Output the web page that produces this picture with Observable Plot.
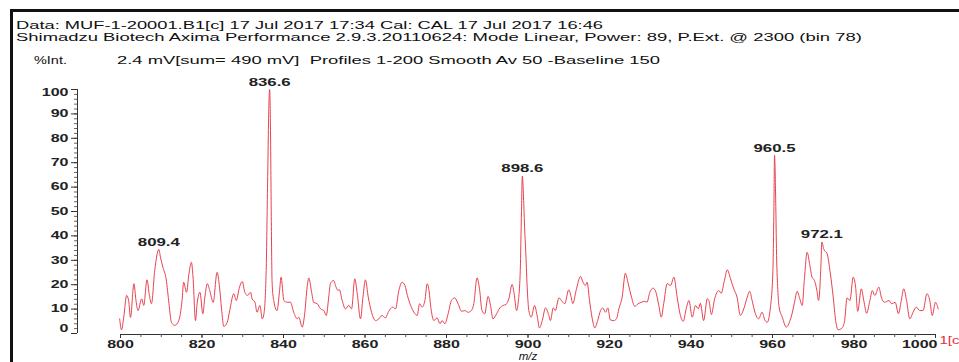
<!DOCTYPE html>
<html><head><meta charset="utf-8">
<script src="https://cdn.jsdelivr.net/npm/d3@7"></script>
<script src="https://cdn.jsdelivr.net/npm/@observablehq/plot@0.6"></script>
<style>
html,body{margin:0;padding:0;background:#fff;}
#wrap{position:relative;width:959px;height:362px;overflow:hidden;font-family:"Liberation Sans",Arial,sans-serif;}
#frame{position:absolute;left:10px;top:9px;width:980px;height:380px;border-top:3px solid #111;border-left:3px solid #111;box-sizing:border-box;}
#header{position:relative;height:70px;}
.hl{position:absolute;display:inline-block;white-space:pre;font-size:10.5px;line-height:10.5px;color:#111;transform-origin:0 50%;}
#chart{position:relative;}
</style></head><body>
<div id="wrap"><div id="frame"></div><div id="header"></div><div id="chart"></div></div>
<script>
// ---- texts ----
const headerTexts = [
  "Data: MUF-1-20001.B1[c] 17 Jul 2017 17:34 Cal: CAL 17 Jul 2017 16:46",
  "Shimadzu Biotech Axima Performance 2.9.3.20110624: Mode Linear, Power: 89, P.Ext. @ 2300 (bin 78)",
  "%Int.",
  "2.4 mV[sum= 490 mV]  Profiles 1-200 Smooth Av 50 -Baseline 150"
];
const xLabel = "m/z";
const cornerTag = "1[c]";
const peakLabels = ["809.4", "836.6", "898.6", "960.5", "972.1"];
const xTicks = [800, 820, 840, 860, 880, 900, 920, 940, 960, 980, 1000];
const xMinor = d3.range(800, 1001, 5);
const yTicks = [0, 10, 20, 30, 40, 50, 60, 70, 80, 90, 100];
const yMinor = d3.range(0, 101, 2);

// ---- spectrum (m/z, %Int.) ----
const mz = [799.8,800.25,800.8,801.5,802.0,802.45,803.3,803.8,804.3,805.2,805.7,806.5,807.1,807.6,808.4,809.4,809.8,810.4,811.2,811.9,812.5,813.3,814.3,815.1,815.5,816.2,816.8,817.4,817.8,818.4,818.8,819.5,820.2,820.7,821.3,821.9,822.75,823.7,824.3,824.8,825.35,826.2,826.8,827.8,828.4,829.2,829.9,830.5,831.2,831.9,832.3,833.0,833.5,834.2,834.8,835.2,835.75,836.1,836.45,836.6,836.8,837.0,837.2,837.6,838.4,839.0,839.4,840.1,840.9,841.7,842.5,843.4,843.75,844.6,845.2,845.8,846.2,846.9,847.4,848.3,849.1,849.9,850.5,851.1,851.5,852.3,852.9,853.4,853.7,854.4,855.2,856.0,856.7,857.5,858.1,858.9,859.5,860.1,860.8,861.6,862.6,863.4,864.2,865.0,865.8,866.8,867.5,868.3,869.1,869.8,870.4,871.2,872.0,872.8,873.4,874.0,874.7,875.25,875.65,876.2,876.9,877.7,878.4,878.9,879.6,880.4,881.2,882.0,882.85,883.7,884.5,885.3,886.1,886.7,887.5,888.15,888.7,889.4,890.2,890.8,891.4,892.3,893.1,893.9,894.6,895.3,896.1,896.6,897.2,897.6,898.1,898.4,898.6,898.9,899.2,899.4,899.8,900.2,900.8,901.6,902.3,902.8,903.5,904.3,905.0,905.5,906.2,906.7,907.6,908.2,909.0,910.0,910.5,911.0,911.8,912.9,913.5,914.1,914.5,915.1,915.7,916.4,917.1,917.8,918.35,919.0,919.6,920.2,921.05,921.7,922.3,923.1,923.9,924.6,925.4,926.2,927.0,927.85,928.65,929.2,929.9,930.7,931.4,932.1,932.7,933.3,934.15,935.0,935.8,936.6,937.3,938.1,938.9,939.5,940.3,941.1,941.8,942.3,943.1,944.0,944.4,945.0,945.8,946.8,947.4,948.2,948.9,949.7,950.5,951.3,952.1,952.95,953.8,954.4,955.0,955.8,956.6,957.45,958.1,958.7,959.5,960.1,960.35,960.5,960.75,961.0,961.3,961.6,962.4,963.4,964.3,964.8,965.4,966.05,966.7,967.3,967.8,968.5,969.1,969.7,970.3,970.9,971.3,971.9,972.1,972.6,973.4,974.2,974.9,975.5,976.1,977.1,977.7,978.3,979.0,979.8,980.4,980.9,981.8,982.4,983.1,983.9,984.5,985.1,986.1,986.7,987.5,988.6,989.25,990.1,990.9,991.6,992.2,992.9,993.7,994.5,995.3,996.1,996.95,997.9,998.6,999.2,1000.0,1000.65];
const intensity = [6.0,1.5,6.7,15.6,13.5,6.6,20.4,13.5,9.4,14.2,11.5,22.0,15.6,12.2,25.8,34.5,31.3,27.2,22.4,12.2,4.6,3.3,5.3,13.5,21.0,16.9,24.5,29.2,23.1,5.3,12.2,16.9,8.1,14.9,20.4,17.6,12.8,25.1,19.0,10.1,2.9,4.6,9.4,16.3,13.5,19.0,21.3,16.9,15.6,16.9,14.2,12.8,8.7,11.5,6.0,8.1,25.8,62,96,100,85,48,21,13.5,9.4,16.9,23.1,13.5,12.8,12.8,8.7,6.0,6.7,2.6,8.1,19.0,22.8,16.9,12.8,12.2,10.1,9.4,7.4,14.9,20.4,21.7,19.0,17.6,18.0,13.5,10.1,11.5,10.1,22.4,16.3,6.0,14.9,22.0,14.9,8.7,5.3,6.0,7.4,6.4,9.0,10.8,10.1,17.6,21.0,19.7,15.6,11.5,8.7,7.4,12.2,10.8,13.5,20.4,18.3,10.1,5.3,6.4,4.0,5.3,4.0,8.1,13.5,14.6,12.2,9.1,9.4,8.7,9.4,12.2,22.8,17.6,9.4,8.1,15.2,11.5,6.0,8.1,10.5,11.5,11.9,14.2,20.1,16.3,9.4,12.8,25.8,50,64.5,56,42,35.4,19.0,9.4,6.7,11.5,6.7,2.3,5.3,10.5,8.1,5.3,10.5,9.4,14.6,13.5,12.2,17.9,15.6,12.2,17.6,23.4,21.0,19.7,21.0,13.5,6.7,2.3,5.3,9.4,10.5,8.7,10.5,5.6,5.3,6.0,10.1,14.9,24.7,20.4,14.9,11.1,12.2,12.8,13.2,12.8,16.9,18.6,16.9,11.5,6.7,12.2,20.4,19.7,23.1,14.9,8.1,5.0,10.8,13.5,6.7,11.5,10.1,12.4,5.3,14.2,13.5,7.8,14.2,17.6,16.5,21.7,26.1,22.4,18.3,14.9,7.4,10.1,14.9,17.3,13.5,8.1,6.0,8.7,5.6,4.6,10.8,25.8,52,73,58,32,18,11,6.7,2.6,5.3,8.1,12.8,17.3,14.2,11.5,21.7,33.3,28.6,23.1,21.7,17.6,13.5,28.6,37.5,34.5,32.7,24.5,14.9,5.3,1.5,2.3,5.3,14.6,13.5,23.1,19.0,9.1,18.3,13.5,8.3,13.5,17.6,15.6,19.0,14.9,12.8,13.5,12.2,12.8,8.1,13.5,18.3,13.5,6.0,8.7,10.8,9.4,9.4,16.3,13.5,7.4,12.8,10.1];

const spectrum = mz.map((m, i) => ({mz: m, int: intensity[i]}));
const peaks = peakLabels.map(l => {
  const m = +l;
  const best = spectrum.filter(d => Math.abs(d.mz - m) < 0.6).reduce((a, b) => (b.int > a.int ? b : a));
  return {mz: m, int: best.int, label: l};
});

// ---- header (HTML, stretched to match the wide instrument font) ----
const headerLayout = [
  {left: 16, right: 603, cy: 25},
  {left: 16, right: 862, cy: 37},
  {left: 34, right: 67, cy: 60},
  {left: 117, right: 660, cy: 60}
];
const header = document.getElementById("header");
headerTexts.forEach((t, i) => {
  const s = document.createElement("span");
  s.className = "hl";
  s.textContent = t;
  header.appendChild(s);
  const L = headerLayout[i];
  const w = s.offsetWidth;
  s.style.left = L.left + "px";
  s.style.top = (L.cy - 5.5) + "px";
  s.style.transform = `scaleX(${(L.right - L.left) / w})`;
});

// ---- chart ----
const red = "#e8414f";
const axisColor = "#333";
const yShift = -43;
const xFirst = xTicks[0], xLast = xTicks[xTicks.length - 1];
const yFirst = yTicks[0], yLast = yTicks[yTicks.length - 1];
const chart = Plot.plot({
  width: 959,
  height: 292,
  marginLeft: 120,
  marginRight: 24,
  marginTop: 19,
  marginBottom: 29,
  style: {fontFamily: "'Liberation Sans', Arial, sans-serif", fontSize: "10px", color: "#111", background: "transparent", overflow: "visible"},
  x: {domain: [xFirst, xLast], label: null},
  y: {domain: [yFirst, yLast], label: null},
  marks: [
    Plot.ruleY([yFirst], {x1: xFirst, x2: xLast, dy: 1, stroke: axisColor}),
    Plot.ruleX([xFirst], {y1: yFirst, y2: yLast, dx: yShift, stroke: axisColor}),
    Plot.axisX({ticks: xMinor, tickSize: 3, dy: 1, stroke: "#555", label: null, tickFormat: () => ""}),
    Plot.axisX({ticks: xTicks, tickSize: 4, tickPadding: 2, dy: 1, stroke: axisColor, fill: "#222", fontWeight: "bold", label: null,
      tickFormat: d => d === xLast ? "" : String(d)}),
    Plot.axisX({ticks: [xLast], tickSize: 0, tickPadding: 6, dy: 1, dx: 2, textAnchor: "end", fill: "#222", fontWeight: "bold", label: null, tickFormat: d => String(d)}),
    Plot.axisY({ticks: yMinor, tickSize: 3, dx: yShift, stroke: "#666", label: null, tickFormat: () => ""}),
    Plot.axisY({ticks: yTicks, tickSize: 6, tickPadding: 3, dx: yShift, stroke: axisColor, fill: "#222", fontWeight: "bold", label: null,
      tickFormat: d => (d === yFirst || d === yLast) ? "" : String(d)}),
    Plot.text([yFirst], {y: d => d, frameAnchor: "left", dx: yShift - 9, dy: -5, textAnchor: "end", text: d => String(d), fill: "#222", fontWeight: "bold"}),
    Plot.text([yLast], {y: d => d, frameAnchor: "left", dx: yShift - 9, dy: 3.5, textAnchor: "end", text: d => String(d), fill: "#222", fontWeight: "bold"}),
    Plot.line(spectrum, {x: "mz", y: "int", stroke: red, strokeWidth: 1, curve: "monotone-x"}),
    Plot.text(peaks, {x: "mz", y: "int", text: "label", dy: -7, fontSize: 10.5, fill: "#222", fontWeight: "bold"}),
    Plot.text([xLabel], {frameAnchor: "bottom", dy: 26, fontStyle: "italic", fontSize: 10, fill: "#111"}),
    Plot.text([cornerTag], {frameAnchor: "bottom-right", dx: 4, dy: 10, textAnchor: "start", fill: "#e0303a", fontSize: 10})
  ]
});
document.getElementById("chart").appendChild(chart);

// stretch SVG text horizontally (wide instrument font) without touching positions
chart.querySelectorAll("text").forEach(t => {
  const content = t.textContent;
  if (!content) return;
  const k = content === xLabel ? 1.15 : content === cornerTag ? 1.5 : 1.6;
  const len = t.getComputedTextLength();
  if (len > 0) {
    t.setAttribute("textLength", (len * k).toFixed(2));
    t.setAttribute("lengthAdjust", "spacingAndGlyphs");
  }
});
</script>
</body></html>
